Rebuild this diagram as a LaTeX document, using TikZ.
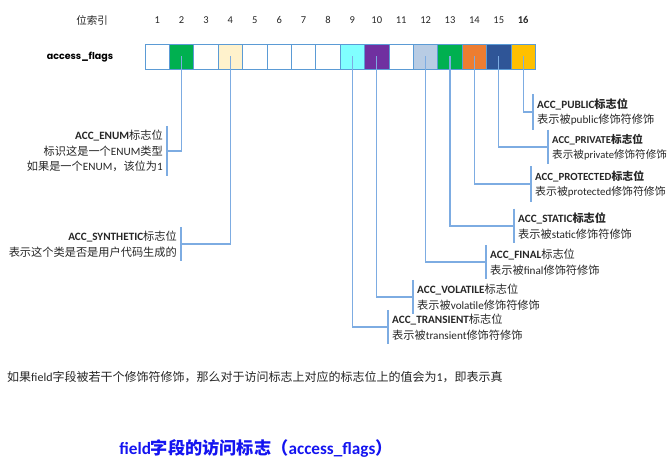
\documentclass[tikz,border=0pt]{standalone}
\usepackage{fontspec}
\setmainfont{Carlito}
\newfontfamily\zhfont{Noto Sans CJK SC}
\newfontfamily\roundfont{Poppins}
\newcommand{\zh}[1]{{\zhfont #1}}
\usetikzlibrary{positioning}

\definecolor{cellline}{RGB}{91,155,213}
\definecolor{linkblue}{RGB}{125,172,226}
\definecolor{flaggreen}{RGB}{0,176,80}
\definecolor{flagcream}{RGB}{255,242,204}
\definecolor{flagaqua}{RGB}{128,255,255}
\definecolor{flagpurple}{RGB}{112,48,160}
\definecolor{flagsky}{RGB}{184,204,228}
\definecolor{flagorange}{RGB}{237,125,49}
\definecolor{flagnavy}{RGB}{47,85,151}
\definecolor{flaggold}{RGB}{255,192,0}
\definecolor{titleblue}{RGB}{20,20,240}

\begin{document}
\begin{tikzpicture}[x=1pt,y=-1pt,
    cell/.style={draw=cellline,line width=0.9pt,minimum width=24.4pt,minimum height=25pt,inner sep=0pt},
    idx/.style={font=\fontsize{10.5}{12}\selectfont,text=black!85},
    link/.style={draw=linkblue,line width=1.1pt},
    desc/.style={font=\fontsize{11.2}{15.5}\selectfont,text=black!85,inner xsep=4pt,inner ysep=4pt},
    descr/.style={desc,anchor=west,align=left},
    descl/.style={desc,anchor=east,align=right}]
    \useasboundingbox (0,0) rectangle (669,468);

    % row of flag bits
    \foreach \i/\col in {1/white,2/flaggreen,3/white,4/flagcream,5/white,6/white,7/white,8/white,
                         9/flagaqua,10/flagpurple,11/white,12/flagsky,13/flaggreen,14/flagorange,15/flagnavy,16/flaggold}
        \node[cell,fill=\col] (c\i) at ({145+24.4*(\i-0.5)},56.5) {};

    % bit index
    \node[idx] (idxtitle) at (92,20) {\zh{位索引}};
    \foreach \i in {1,...,15}
        \node[idx] (n\i) at ({145+24.4*(\i-0.5)},20) {\i};
    \node[idx,font=\fontsize{10.5}{12}\selectfont\bfseries] (n16) at ({145+24.4*15.5},20) {16};
    \node[font=\roundfont\bfseries\fontsize{9.5}{11}\selectfont] (rowname) at (80,57) {access\_flags};

    % descriptions on the right
    \node[descr] (l16) at (533,112) {\textbf{ACC\_PUBLIC\zh{标志位}}\\\zh{表示被}public\zh{修饰符修饰}};
    \node[descr,font=\fontsize{10.6}{15.5}\selectfont] (l15) at (548,147) {\textbf{ACC\_PRIVATE\zh{标志位}}\\\zh{表示被}private\zh{修饰符修饰}};
    \node[descr,font=\fontsize{10.9}{15.5}\selectfont] (l14) at (531,184) {\textbf{ACC\_PROTECTED\zh{标志位}}\\\zh{表示被}protected\zh{修饰符修饰}};
    \node[descr] (l13) at (514,226) {\textbf{ACC\_STATIC\zh{标志位}}\\\zh{表示被}static\zh{修饰符修饰}};
    \node[descr] (l12) at (486,262) {\textbf{ACC\_FINAL}\zh{标志位}\\\zh{表示被}final\zh{修饰符修饰}};
    \node[descr] (l10) at (413,297) {\textbf{ACC\_VOLATILE}\zh{标志位}\\\zh{表示被}volatile\zh{修饰符修饰}};
    \node[descr] (l9) at (388,327) {\textbf{ACC\_TRANSIENT}\zh{标志位}\\\zh{表示被}transient\zh{修饰符修饰}};

    % descriptions on the left
    \node[descl] (l2) at (167,151) {\textbf{ACC\_ENUM}\zh{标志位}\\\zh{标识这是一个}ENUM\zh{类型}\\\zh{如果是一个}ENUM\zh{，该位为}1};
    \node[descl] (l4) at (181,244) {\textbf{ACC\_SYNTHETIC}\zh{标志位}\\\zh{表示这个类是否是用户代码生成的}};

    % connectors
    \foreach \i in {16,15,14,13,12,10,9} {
        \draw[link] (c\i.center) |- (l\i.west);
        \draw[link] (l\i.north west) -- (l\i.south west);
    }
    \foreach \i in {2,4} {
        \draw[link] (c\i.center) |- (l\i.east);
        \draw[link] (l\i.north east) -- (l\i.south east);
    }

    \node[anchor=west,inner sep=0pt,font=\fontsize{12}{14}\selectfont,text=black!85] (note) at (7,377)
        {\zh{如果}field\zh{字段被若干个修饰符修饰，那么对于访问标志上对应的标志位上的值会为}1\zh{，即表示真}};
    \node[font=\fontsize{17.2}{20}\selectfont\bfseries,text=titleblue] (title) at (256,448)
        {field\zh{字段的访问标志（}access\_flags\zh{）}};
\end{tikzpicture}
\end{document}
